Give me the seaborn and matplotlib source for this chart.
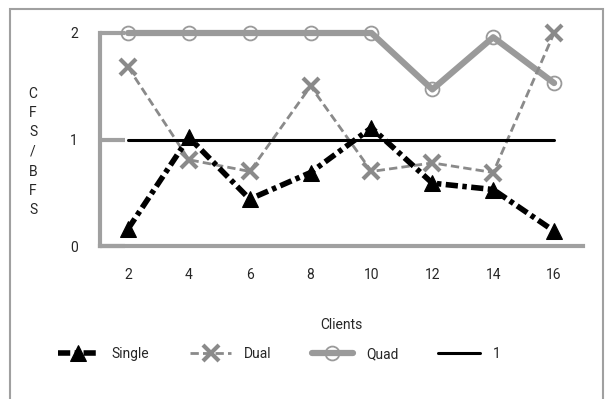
import pandas as pd
import matplotlib
matplotlib.use("Agg")
import matplotlib.pyplot as plt
import seaborn as sns
from matplotlib.patches import Rectangle

# --- Data ---
clients = [2, 4, 6, 8, 10, 12, 14, 16]
single = [0.16, 1.02, 0.44, 0.69, 1.11, 0.59, 0.53, 0.14]
dual = [1.68, 0.81, 0.70, 1.50, 0.70, 0.78, 0.69, 2.00]
quad = [2.00, 2.00, 2.00, 2.00, 2.00, 1.47, 1.96, 1.53]
baseline = [1, 1, 1, 1, 1, 1, 1, 1]
y_ticks = [0, 1, 2]

# --- Style ---
sns.set_style("white")
plt.rcParams['font.family'] = ['Roboto', 'DejaVu Sans']
plt.rcParams['font.size'] = 10

AXIS_GREY = '#a0a0a0'

fig = plt.figure(figsize=(6.05, 3.99), dpi=100)
ax = fig.add_axes([100 / 605, 1 - 246 / 399, 483 / 605, 213 / 399])

df = pd.DataFrame({'Clients': clients, 'Single': single, 'Dual': dual,
                   'Quad': quad, '1': baseline})

# Quad: thick grey line, hollow circles
sns.lineplot(data=df, x='Clients', y='Quad', ax=ax, color='#9a9a9a', lw=4.5,
             marker='o', markersize=10, mfc='none', mec='#9a9a9a', mew=1.3,
             label='Quad', zorder=2, clip_on=False)
# Dual: grey dashed, x markers
sns.lineplot(data=df, x='Clients', y='Dual', ax=ax, color='#8a8a8a', lw=2,
             dashes=(3, 1.5), marker='x', markersize=11, mew=3,
             mec='#8a8a8a', label='Dual', zorder=3, clip_on=False)
# reference line at 1
sns.lineplot(data=df, x='Clients', y='1', ax=ax, color='black', lw=2.2,
             label='1', zorder=4)
# Single: thick black dash-dot, triangles
sns.lineplot(data=df, x='Clients', y='Single', ax=ax, color='black', lw=4,
             dashes=(2.2, 0.8, 0.8, 0.8), marker='^', markersize=12,
             mec='black', label='Single', zorder=5, clip_on=False)

ax.set_xlim(1.08, 16.95)
ax.set_ylim(0, 2)
ax.set_xticks(clients)
ax.set_yticks(y_ticks)
ax.tick_params(axis='x', bottom=False, length=0, pad=16, labelsize=10)
ax.tick_params(axis='y', left=True, direction='in', length=18, width=3,
               color=AXIS_GREY, pad=16, labelsize=10)

for side in ['top', 'right']:
    ax.spines[side].set_visible(False)
for side in ['left', 'bottom']:
    ax.spines[side].set_color(AXIS_GREY)
    ax.spines[side].set_linewidth(3)
    ax.spines[side].set_zorder(1)

ax.set_xlabel('Clients', fontsize=10, labelpad=26)
ax.set_ylabel('')
fig.text(33 / 605, 1 - 152 / 399, 'C\nF\nS\n/\nB\nF\nS', ha='center',
         va='center', fontsize=10, linespacing=1.5)

# Legend below the plot, one row
handles, labels = ax.get_legend_handles_labels()
order = ['Single', 'Dual', 'Quad', '1']
hmap = dict(zip(labels, handles))
ax.get_legend().remove()
fig.legend([hmap[k] for k in order], order, loc='center',
           bbox_to_anchor=(279 / 605, 1 - 354 / 399), ncol=4, frameon=False,
           handlelength=3, handletextpad=0.9, columnspacing=2.9, fontsize=10)

# outer grey frame (bottom edge runs off the image)
fig.patches.append(Rectangle((10 / 605, -0.05), 593 / 605, 1.05 - 9 / 399,
                             transform=fig.transFigure, fill=False,
                             edgecolor='#a0a0a0', lw=1.5))

plt.savefig('out.png', dpi=100)
plt.close()
